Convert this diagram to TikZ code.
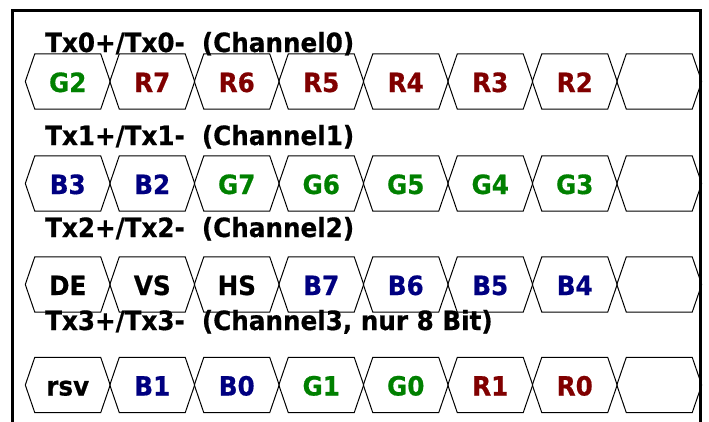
\documentclass[tikz,border=0pt]{standalone}
\usepackage{fontspec}
\setmainfont[FakeStretch=0.93,BoldFeatures={FakeBold=0.6}]{DejaVu Sans}
\usetikzlibrary{positioning}

\definecolor{gbit}{RGB}{0,128,0}
\definecolor{rbit}{RGB}{128,0,0}
\definecolor{bbit}{RGB}{0,0,128}

\tikzset{
  cell/.style={minimum width=84.5pt, minimum height=55pt, inner sep=0pt,
    text height=21pt, text depth=0pt,
    font=\bfseries\fontsize{26.5}{26.5}\selectfont},
  chan/.style={anchor=base west, inner sep=0pt,
    font=\bfseries\fontsize{26.5}{26.5}\selectfont},
  hex/.style={line width=1pt},
  frame/.style={line width=3pt},
}

\begin{document}
\begin{tikzpicture}[x=1pt,y=-1pt]
    \useasboundingbox (0,0) rectangle (709,421);

    % Outer frame (open at the bottom)
    \coordinate (fbl) at (12.5,425);
    \coordinate (ftl) at (12.5,10);
    \coordinate (ftr) at (700.7,10);
    \coordinate (fbr) at (700.7,425);
    \draw[frame] (fbl) -- (ftl) -- (ftr) -- (fbr);

    % Channel titles
    \node[chan] (ch0) at (45,52) {Tx0+/Tx0-\ \ (Channel0)};
    \node[chan] (ch1) at (45,145) {Tx1+/Tx1-\ \ (Channel1)};
    \node[chan] (ch2) at (45,237) {Tx2+/Tx2-\ \ (Channel2)};
    \node[chan] (ch3) at (45,330) {Tx3+/Tx3-\ \ (Channel3, nur 8 Bit)};

    % Bit cells of each channel
    \foreach \r/\yc/\cells in {
        0/81.5/{G2/gbit,R7/rbit,R6/rbit,R5/rbit,R4/rbit,R3/rbit,R2/rbit,{}/black},
        1/183.5/{B3/bbit,B2/bbit,G7/gbit,G6/gbit,G5/gbit,G4/gbit,G3/gbit,{}/black},
        2/284.5/{DE/black,VS/black,HS/black,B7/bbit,B6/bbit,B5/bbit,B4/bbit,{}/black},
        3/385/{rsv/black,B1/bbit,B0/bbit,G1/gbit,G0/gbit,R1/rbit,R0/rbit,{}/black}}
    {
      \foreach \txt/\col [count=\i from 0] in \cells {
        \node[cell, text=\col] (c\r-\i) at (67.75+84.5*\i,\yc) {\txt};
        \draw[hex] (c\r-\i.west) -- ([xshift=9.5pt]c\r-\i.north west)
          -- ([xshift=-9.5pt]c\r-\i.north east) -- (c\r-\i.east)
          -- ([xshift=-9.5pt]c\r-\i.south east)
          -- ([xshift=9.5pt]c\r-\i.south west) -- cycle;
      }
    }
\end{tikzpicture}
\end{document}
